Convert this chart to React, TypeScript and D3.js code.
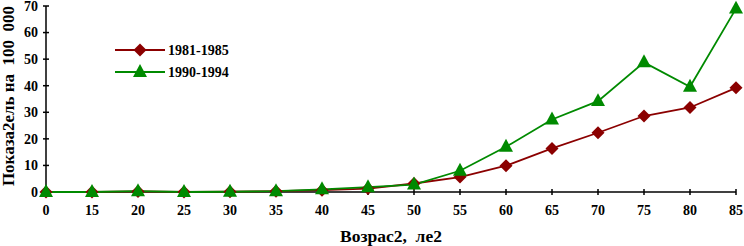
import React from "react";
import * as d3 from "d3";

const categories = ["0", "15", "20", "25", "30", "35", "40", "45", "50", "55", "60", "65", "70", "75", "80", "85"];
const series1981 = [0, 0, 0.2, 0, 0.1, 0.3, 0.7, 1.3, 3.2, 5.6, 9.9, 16.4, 22.3, 28.6, 31.8, 39.2];
const series1990 = [0, 0, 0.3, 0, 0.1, 0.3, 1.0, 1.8, 2.8, 8.0, 17.0, 27.3, 34.2, 48.8, 39.6, 69.0];
const yTicks = [0, 10, 20, 30, 40, 50, 60, 70];
const seriesNames = ["1981-1985", "1990-1994"];

const W = 744, H = 246;
const x0 = 46, x1 = 736, yTop = 6, yBot = 192;
const RED = "#8b0000";
const GREEN = "#008a00";
const FONT = "'Liberation Serif', 'Times New Roman', serif";

export default function App() {
  const x = d3.scalePoint<string>().domain(categories).range([x0, x1]);
  const y = d3.scaleLinear().domain([0, 70]).range([yBot, yTop]);
  const line = d3.line<number>().x((_, i) => x(categories[i])!).y((d) => y(d));
  const diamond = (cx: number, cy: number, r = 6.5) =>
    `M${cx},${cy - r}L${cx + r},${cy}L${cx},${cy + r}L${cx - r},${cy}Z`;
  const tri = (cx: number, cy: number, r = 7) =>
    `M${cx},${cy - r}L${cx + r},${cy + r * 0.85}L${cx - r},${cy + r * 0.85}Z`;

  return (
    <svg width={W} height={H} style={{ position: "absolute", left: 0, top: 0, background: "#fff" }}>
      {/* axes */}
      <line x1={x0} x2={x0} y1={yTop} y2={yBot} stroke="#000" strokeWidth={1.5} />
      <line x1={x0} x2={x1} y1={yBot} y2={yBot} stroke="#000" strokeWidth={1.5} />
      {yTicks.map((t) => (
        <g key={t}>
          <line x1={x0 - 3} x2={x0 + 3} y1={y(t)} y2={y(t)} stroke="#000" strokeWidth={1.5} />
          <text x={x0 - 8} y={y(t)} dy="0.35em" textAnchor="end" fontFamily={FONT} fontWeight="bold" fontSize={14}>{t}</text>
        </g>
      ))}
      {categories.map((c) => (
        <g key={c}>
          <line x1={x(c)} x2={x(c)} y1={yBot - 3} y2={yBot + 3} stroke="#000" strokeWidth={1.5} />
          <text x={x(c)} y={215} textAnchor="middle" fontFamily={FONT} fontWeight="bold" fontSize={14}>{c}</text>
        </g>
      ))}
      <text x={391} y={242} textAnchor="middle" fontFamily={FONT} fontWeight="bold" fontSize={17.5} style={{ whiteSpace: "pre" }}>{"Возрас2,  ле2"}</text>
      <text transform={`translate(14,96) rotate(-90)`} textAnchor="middle" fontFamily={FONT} fontWeight="bold" fontSize={17} style={{ whiteSpace: "pre" }}>{"Показа2ель на  100  000"}</text>

      {/* series */}
      <path d={line(series1981)!} fill="none" stroke={RED} strokeWidth={1.8} />
      <path d={line(series1990)!} fill="none" stroke={GREEN} strokeWidth={1.8} />
      {series1981.map((v, i) => (
        <path key={"a" + i} d={diamond(x(categories[i])!, y(v))} fill={RED} />
      ))}
      {series1990.map((v, i) => (
        <path key={"b" + i} d={tri(x(categories[i])!, y(v) - 1)} fill={GREEN} />
      ))}

      {/* legend */}
      <line x1={115} x2={165} y1={50} y2={50} stroke={RED} strokeWidth={1.8} />
      <path d={diamond(140, 50)} fill={RED} />
      <text x={168} y={50} dy="0.35em" fontFamily={FONT} fontWeight="bold" fontSize={14}>{seriesNames[0]}</text>
      <line x1={115} x2={165} y1={72} y2={72} stroke={GREEN} strokeWidth={1.8} />
      <path d={tri(140, 71)} fill={GREEN} />
      <text x={168} y={72} dy="0.35em" fontFamily={FONT} fontWeight="bold" fontSize={14}>{seriesNames[1]}</text>
    </svg>
  );
}
